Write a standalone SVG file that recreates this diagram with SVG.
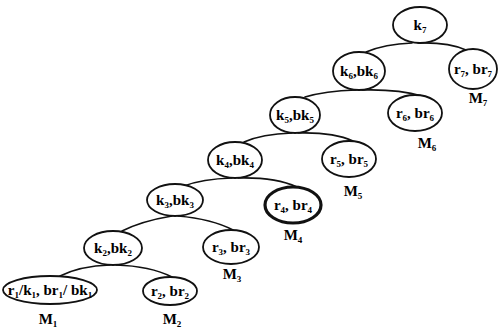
<svg xmlns="http://www.w3.org/2000/svg" width="498" height="335" viewBox="0 0 498 335">
  <style>
    .node ellipse { fill: #fff; stroke: #111; stroke-width: 1.8; }
    .node.bold ellipse { stroke-width: 3.2; }
    .edges path { fill: none; stroke: #111; stroke-width: 1.6; stroke-linecap: round; }
    text { font-family: "Liberation Serif", "Times New Roman", serif; font-weight: bold; font-size: 15px; fill: #000; text-anchor: middle; }
    .s { font-size: 9px; }
  </style>
  <rect width="498" height="335" fill="#fff"/>

  <!-- branches: each runs from a parent's bottom to a child's top -->
  <g id="connectors" class="edges">
    <path d="M412,43 Q385,44 366,52"/>
    <path d="M418,43 Q448,42 466,50"/>
    <path d="M356,90 Q325,91 305,97"/>
    <path d="M362,90 Q398,89 422,96"/>
    <path d="M292,133 Q262,134 244,142"/>
    <path d="M298,133 Q333,132 353,141"/>
    <path d="M232,178 Q202,179 184,186"/>
    <path d="M238,178 Q275,177 297,187"/>
    <path d="M172,216 Q142,221 122,231"/>
    <path d="M178,216 Q212,219 233,230"/>
    <path d="M110,265 Q80,266 60,276"/>
    <path d="M116,265 Q150,266 172,277"/>
  </g>

  <g id="k7" class="node">
    <ellipse cx="420" cy="25" rx="27" ry="18"/>
    <text x="420" y="30">k<tspan class="s" dy="3">7</tspan></text>
  </g>
  <g id="k6" class="node">
    <ellipse cx="359" cy="71" rx="26" ry="19"/>
    <text x="359" y="76">k<tspan class="s" dy="3">6</tspan><tspan dy="-3">,bk</tspan><tspan class="s" dy="3">6</tspan></text>
  </g>
  <g id="r7" class="node">
    <ellipse cx="473" cy="69" rx="24" ry="20"/>
    <text x="473" y="74">r<tspan class="s" dy="3">7</tspan><tspan dy="-3">, br</tspan><tspan class="s" dy="3">7</tspan></text>
    <text x="478" y="103">M<tspan class="s" dy="3">7</tspan></text>
  </g>
  <g id="k5" class="node">
    <ellipse cx="295" cy="115" rx="25" ry="18"/>
    <text x="295" y="120">k<tspan class="s" dy="3">5</tspan><tspan dy="-3">,bk</tspan><tspan class="s" dy="3">5</tspan></text>
  </g>
  <g id="r6" class="node">
    <ellipse cx="415" cy="113" rx="27" ry="18"/>
    <text x="415" y="118">r<tspan class="s" dy="3">6</tspan><tspan dy="-3">, br</tspan><tspan class="s" dy="3">6</tspan></text>
    <text x="427" y="148">M<tspan class="s" dy="3">6</tspan></text>
  </g>
  <g id="k4" class="node">
    <ellipse cx="235" cy="160" rx="27" ry="18"/>
    <text x="235" y="165">k<tspan class="s" dy="3">4</tspan><tspan dy="-3">,bk</tspan><tspan class="s" dy="3">4</tspan></text>
  </g>
  <g id="r5" class="node">
    <ellipse cx="349" cy="159" rx="27" ry="18"/>
    <text x="349" y="164">r<tspan class="s" dy="3">5</tspan><tspan dy="-3">, br</tspan><tspan class="s" dy="3">5</tspan></text>
    <text x="353" y="196">M<tspan class="s" dy="3">5</tspan></text>
  </g>
  <g id="k3" class="node">
    <ellipse cx="175" cy="200" rx="28" ry="16"/>
    <text x="175" y="205">k<tspan class="s" dy="3">3</tspan><tspan dy="-3">,bk</tspan><tspan class="s" dy="3">3</tspan></text>
  </g>
  <g id="r4" class="node bold">
    <ellipse cx="293" cy="205" rx="28" ry="18"/>
    <text x="293" y="210">r<tspan class="s" dy="3">4</tspan><tspan dy="-3">, br</tspan><tspan class="s" dy="3">4</tspan></text>
    <text x="293" y="240">M<tspan class="s" dy="3">4</tspan></text>
  </g>
  <g id="k2" class="node">
    <ellipse cx="113" cy="248" rx="29" ry="17"/>
    <text x="113" y="253">k<tspan class="s" dy="3">2</tspan><tspan dy="-3">,bk</tspan><tspan class="s" dy="3">2</tspan></text>
  </g>
  <g id="r3" class="node">
    <ellipse cx="231" cy="247" rx="28" ry="17"/>
    <text x="231" y="252">r<tspan class="s" dy="3">3</tspan><tspan dy="-3">, br</tspan><tspan class="s" dy="3">3</tspan></text>
    <text x="232" y="279">M<tspan class="s" dy="3">3</tspan></text>
  </g>
  <g id="r1" class="node">
    <ellipse cx="50" cy="290" rx="47" ry="14"/>
    <text x="50" y="295" font-size="14">r<tspan class="s" dy="3">1</tspan><tspan dy="-3">/k</tspan><tspan class="s" dy="3">1</tspan><tspan dy="-3">, br</tspan><tspan class="s" dy="3">1</tspan><tspan dy="-3">/ bk</tspan><tspan class="s" dy="3">1</tspan></text>
    <text x="48" y="324">M<tspan class="s" dy="3">1</tspan></text>
  </g>
  <g id="r2" class="node">
    <ellipse cx="170" cy="291" rx="27" ry="14"/>
    <text x="170" y="296">r<tspan class="s" dy="3">2</tspan><tspan dy="-3">, br</tspan><tspan class="s" dy="3">2</tspan></text>
    <text x="172" y="324">M<tspan class="s" dy="3">2</tspan></text>
  </g>
</svg>
